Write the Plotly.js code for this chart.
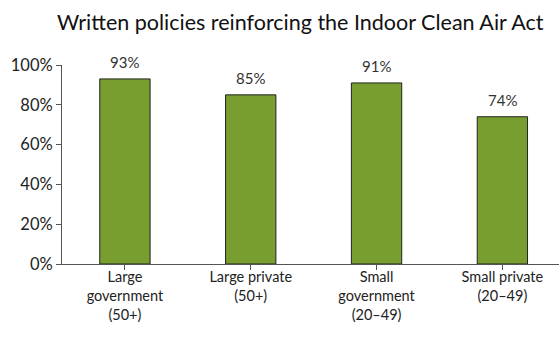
<!DOCTYPE html>
<html><head><meta charset="utf-8">
<script src="https://cdn.plot.ly/plotly-3.0.1.min.js"></script>
<style>html,body{margin:0;padding:0;background:#fff}#chart{width:559px;height:345px}</style>
</head><body><div id="chart"></div>
<script>
const categories = ["Large<br>government<br>(50+)", "Large private<br>(50+)", "Small<br>government<br>(20–49)", "Small private<br>(20–49)"];
const values = [93, 85, 91, 74];
const valueLabels = ["93%", "85%", "91%", "74%"];
const yTickVals = [0, 20, 40, 60, 80, 100];
const yTickText = ["0%", "20%", "40%", "60%", "80%", "100%"];

const fontFam = "Lato, 'Open Sans', sans-serif";
const xs = values.map((v, i) => i);
Plotly.newPlot("chart", [{
  type: "bar",
  x: xs,
  y: values,
  marker: {color: "#789E30", line: {color: "#222", width: 1}},
  width: 0.4,
  hoverinfo: "none"
}], {
  width: 559, height: 345,
  margin: {l: 62, r: 0, t: 65, b: 81},
  paper_bgcolor: "#fff", plot_bgcolor: "#fff",
  showlegend: false,
  title: {text: "Written policies reinforcing the Indoor Clean Air Act", x: 0.537, xanchor: "center", y: 0.936, yanchor: "middle", font: {family: fontFam, size: 21.5, color: "#111"}},
  annotations: values.map((v, i) => ({
    x: xs[i], y: v, xref: "x", yref: "y", text: valueLabels[i],
    showarrow: false, yanchor: "middle", yshift: 17,
    font: {family: fontFam, size: 15, color: "#333"}
  })),
  xaxis: {
    range: [-0.5, 3.45],
    tickvals: xs,
    ticktext: categories,
    tickson: "boundaries",
    ticks: "outside", ticklen: 5, tickcolor: "#555",
    ticklabelstandoff: -5,
    showline: true, linecolor: "#555", linewidth: 1,
    showgrid: false, zeroline: false,
    tickfont: {family: fontFam, size: 14.5, color: "#222"}
  },
  yaxis: {
    range: [0, 100],
    tickvals: yTickVals,
    ticktext: yTickText,
    ticks: "outside", ticklen: 5, tickcolor: "#555",
    showline: true, linecolor: "#555", linewidth: 1,
    showgrid: false, zeroline: false,
    tickfont: {family: fontFam, size: 16.5, color: "#222"}
  }
}, {staticPlot: true});
</script></body></html>
